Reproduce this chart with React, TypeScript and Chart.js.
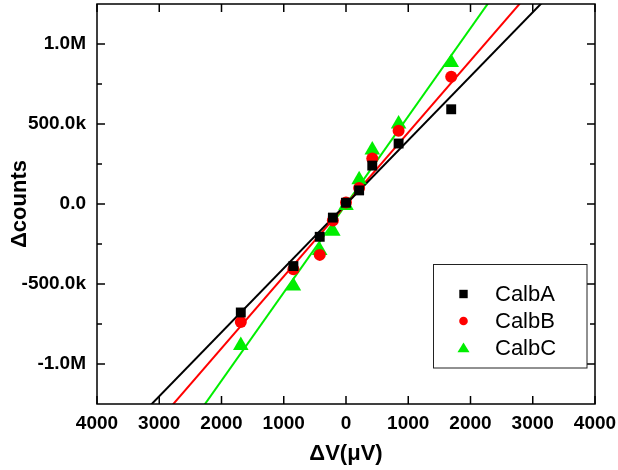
import React, { useEffect, useRef } from 'react';
import { Chart, registerables } from 'chart.js';

Chart.register(...registerables);

// ---- data ----
const xValues = [-1690, -845, -422, -211, 0, 211, 422, 845, 1690];
const calbA = [-678000, -388000, -205000, -85000, 8000, 85000, 240000, 378000, 592000];
const calbB = [-737000, -408000, -318000, -103000, 10000, 100000, 284000, 458000, 796000];
const calbC = [-885000, -512000, -290000, -170000, -10000, 152000, 338000, 500000, 885000];
const seriesNames = ['CalbA', 'CalbB', 'CalbC'];
const seriesColors = ['#000000', '#ff0000', '#00ee00'];
const seriesMarkers = ['rect', 'circle', 'triangle'];
const markerRadii = [7, 6, 9];
// linear fits (slope in counts per µV, intercept in counts)
const fitSlopes = [400, 449.6, 550.7];
const fitIntercepts = [-1600, -2800, -2700];

const xRange = [-4000, 4000];
const yRange = [-1250000, 1250000];
const xTickValues = [-4000, -3000, -2000, -1000, 0, 1000, 2000, 3000, 4000];
const xTickLabels = ['4000', '3000', '2000', '1000', '0', '1000', '2000', '3000', '4000'];
const yTickValues = [-1000000, -500000, 0, 500000, 1000000];
const yTickLabels = ['-1.0M', '-500.0k', '0.0', '500.0k', '1.0M'];
const yMinorTicks = [-750000, -250000, 250000, 750000];
const xTitle = 'ΔV(μV)';
const yTitle = 'Δcounts';

const FONT = '"Liberation Sans", Arial, sans-serif';

const framePlugin = {
  id: 'frame',
  afterDraw(chart: any) {
    const { ctx, chartArea: a, scales } = chart;
    const xs = scales.x;
    const ys = scales.y;
    ctx.save();
    ctx.strokeStyle = '#000';
    ctx.lineWidth = 1.5;
    ctx.strokeRect(a.left, a.top, a.right - a.left, a.bottom - a.top);
    ctx.beginPath();
    xTickValues.forEach((v) => {
      const p = xs.getPixelForValue(v);
      ctx.moveTo(p, a.bottom);
      ctx.lineTo(p, a.bottom - 8);
      ctx.moveTo(p, a.top);
      ctx.lineTo(p, a.top + 8);
    });
    yTickValues.forEach((v) => {
      const p = ys.getPixelForValue(v);
      ctx.moveTo(a.left, p);
      ctx.lineTo(a.left + 8, p);
      ctx.moveTo(a.right, p);
      ctx.lineTo(a.right - 8, p);
    });
    yMinorTicks.forEach((v) => {
      const p = ys.getPixelForValue(v);
      ctx.moveTo(a.left, p);
      ctx.lineTo(a.left + 5, p);
      ctx.moveTo(a.right, p);
      ctx.lineTo(a.right - 5, p);
    });
    ctx.stroke();
    ctx.restore();
  },
};

function drawMarker(ctx: CanvasRenderingContext2D, kind: string, x: number, y: number, color: string) {
  ctx.fillStyle = color;
  ctx.beginPath();
  if (kind === 'rect') {
    ctx.rect(x - 4.2, y - 4.2, 8.4, 8.4);
  } else if (kind === 'circle') {
    ctx.arc(x, y, 4.3, 0, Math.PI * 2);
  } else {
    ctx.moveTo(x, y - 5.5);
    ctx.lineTo(x + 6, y + 4.3);
    ctx.lineTo(x - 6, y + 4.3);
    ctx.closePath();
  }
  ctx.fill();
}

const legendPlugin = {
  id: 'boxLegend',
  afterDraw(chart: any) {
    const { ctx } = chart;
    ctx.save();
    ctx.strokeStyle = '#222';
    ctx.lineWidth = 1;
    ctx.strokeRect(433.5, 264.5, 153.5, 103.5);
    const rows = [294, 321, 348];
    ctx.font = `22px ${FONT}`;
    ctx.textBaseline = 'middle';
    ctx.textAlign = 'left';
    seriesNames.forEach((name, i) => {
      drawMarker(ctx, seriesMarkers[i], 463.5, rows[i], seriesColors[i]);
      ctx.fillStyle = '#000';
      ctx.fillText(name, 495, rows[i] + 1);
    });
    ctx.restore();
  },
};

export default function App() {
  const ref = useRef<HTMLCanvasElement>(null);

  useEffect(() => {
    if (!ref.current) return;
    const series = [calbA, calbB, calbC];
    const scatterSets = series.map((vals, i) => ({
      type: 'scatter' as const,
      label: seriesNames[i],
      data: xValues.map((x, j) => ({ x, y: vals[j] })),
      backgroundColor: seriesColors[i],
      borderColor: seriesColors[i],
      pointStyle: seriesMarkers[i],
      pointRadius: markerRadii[i],
      pointHoverRadius: markerRadii[i],
      pointBorderWidth: 0,
      borderWidth: 0,
    }));
    const fitSets = series.map((_, i) => ({
      type: 'line' as const,
      label: seriesNames[i] + ' fit',
      data: xRange.map((x) => ({ x, y: fitSlopes[i] * x + fitIntercepts[i] })),
      borderColor: seriesColors[i],
      backgroundColor: seriesColors[i],
      borderWidth: 2,
      pointRadius: 0,
      fill: false,
      tension: 0,
    }));

    const chart = new Chart(ref.current, {
      type: 'scatter',
      data: { datasets: [...scatterSets, ...fitSets] as any },
      options: {
        animation: false,
        responsive: false,
        devicePixelRatio: 1,
        layout: { autoPadding: false, padding: { top: 4, right: 23, left: 0, bottom: 0 } },
        plugins: {
          legend: { display: false },
          tooltip: { enabled: false },
        },
        scales: {
          x: {
            type: 'linear',
            min: xRange[0],
            max: xRange[1],
            afterBuildTicks: (s: any) => {
              s.ticks = xTickValues.map((v) => ({ value: v }));
            },
            afterFit: (s: any) => {
              s.height = 66;
              s.paddingLeft = 0;
              s.paddingRight = 0;
            },
            grid: { display: false, drawTicks: false },
            border: { display: false },
            ticks: {
              padding: 8,
              maxRotation: 0,
              autoSkip: false,
              color: '#000',
              font: { family: FONT, size: 19, weight: 'bold' },
              callback: (_v: any, i: number) => xTickLabels[i],
            },
            title: {
              display: true,
              text: xTitle,
              color: '#000',
              font: { family: FONT, size: 22, weight: 'bold' },
              padding: { top: 0, bottom: 3 },
            },
          },
          y: {
            type: 'linear',
            min: yRange[0],
            max: yRange[1],
            afterBuildTicks: (s: any) => {
              s.ticks = yTickValues.map((v) => ({ value: v }));
            },
            afterFit: (s: any) => {
              s.width = 97;
              s.paddingTop = 0;
              s.paddingBottom = 0;
            },
            grid: { display: false, drawTicks: false },
            border: { display: false },
            ticks: {
              padding: 11,
              autoSkip: false,
              color: '#000',
              font: { family: FONT, size: 19, weight: 'bold' },
              callback: (_v: any, i: number) => yTickLabels[i],
            },
            title: {
              display: true,
              text: yTitle,
              color: '#000',
              font: { family: FONT, size: 22, weight: 'bold' },
              padding: { top: 7, bottom: 0 },
            },
          },
        },
      },
      plugins: [framePlugin, legendPlugin],
    });
    return () => chart.destroy();
  }, []);

  return (
    <div style={{ position: 'absolute', left: 0, top: 0, width: 618, height: 470, background: '#fff' }}>
      <canvas ref={ref} width={618} height={470} />
    </div>
  );
}
